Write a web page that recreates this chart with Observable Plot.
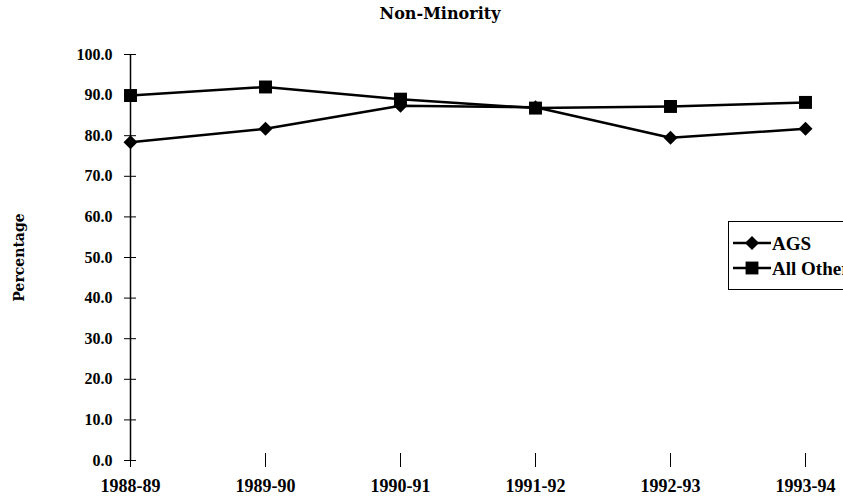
<!DOCTYPE html>
<html>
<head>
<meta charset="utf-8">
<script src="https://cdn.jsdelivr.net/npm/d3@7"></script>
<script src="https://cdn.jsdelivr.net/npm/@observablehq/plot@0.6"></script>
<style>
  html, body { margin: 0; padding: 0; background: #fff; }
  #wrap { position: relative; width: 843px; height: 503px; overflow: hidden; }
  #title { position: absolute; left: 0; width: 880px; top: 4px; text-align: center;
    font-family: "DejaVu Serif", serif; font-weight: bold; font-size: 16px; color: #000; }
  #legend { position: absolute; left: 728px; top: 221px; width: 130px; height: 67px;
    border: 1px solid #000; background: #fff; }
  #legend svg { position: absolute; left: 0; top: 0; }
</style>
</head>
<body>
<div id="wrap">
  <div id="chart"></div>
  <div id="title">Non-Minority</div>
  <div id="legend"></div>
</div>
<script>
const categories = ["1988-89", "1989-90", "1990-91", "1991-92", "1992-93", "1993-94"];
const agsValues = [78.4, 81.7, 87.4, 87.0, 79.5, 81.7];
const allOtherValues = [89.9, 92.0, 89.0, 86.8, 87.2, 88.2];
const seriesNames = ["AGS", "All Other"];
const yTicks = [0, 10, 20, 30, 40, 50, 60, 70, 80, 90, 100];

const agsData = categories.map((c, i) => ({ year: c, value: agsValues[i], series: seriesNames[0] }));
const otherData = categories.map((c, i) => ({ year: c, value: allOtherValues[i], series: seriesNames[1] }));

const fmt = d3.format(".1f");
const serifBold = "Liberation Serif, Times New Roman, serif";

const plot = Plot.plot({
  width: 843,
  height: 503,
  marginLeft: 130,
  marginRight: 38,
  marginTop: 54,
  marginBottom: 43,
  style: { background: "#fff", color: "#000", fontFamily: serifBold, fontWeight: "bold" },
  x: { type: "point", domain: categories, padding: 0 },
  y: { domain: [0, 100] },
  marks: [
    Plot.ruleX([categories[0]], { y1: 0, y2: 100, stroke: "#000", strokeWidth: 1.5 }),
    Plot.ruleY([0], { x1: categories[0], x2: categories[categories.length - 1], stroke: "#000", strokeWidth: 1.5 }),
    Plot.axisY({ ticks: yTicks, tickSize: 12, dx: 6, text: null, stroke: "#000", strokeWidth: 1, label: null }),
    Plot.axisY({ ticks: yTicks, tickSize: 0, tickPadding: 18, tickFormat: fmt, fontSize: 16, fontWeight: "bold",
      fontFamily: serifBold, label: "Percentage", labelAnchor: "center", labelArrow: "none", labelOffset: 116 }),
    Plot.axisX({ ticks: categories, tickSize: 14, dy: -7, text: null, stroke: "#000", strokeWidth: 1, label: null }),
    Plot.axisX({ ticks: categories, tickSize: 0, tickPadding: 19, fontSize: 18, fontWeight: "bold",
      fontFamily: serifBold, label: null }),
    Plot.line(agsData, { x: "year", y: "value", stroke: "#000", strokeWidth: 2.5 }),
    Plot.line(otherData, { x: "year", y: "value", stroke: "#000", strokeWidth: 2.5 }),
    Plot.dot(agsData, { x: "year", y: "value", symbol: "diamond2", fill: "#000", stroke: null, r: 6.3 }),
    Plot.dot(otherData, { x: "year", y: "value", symbol: "square", fill: "#000", stroke: null, r: 7.3 })
  ]
});
plot.querySelectorAll("g[aria-label='y-axis label'] text").forEach(t => {
  t.setAttribute("font-family", "DejaVu Serif, serif");
  t.setAttribute("font-size", "14");
  t.setAttribute("font-weight", "bold");
});
document.getElementById("chart").appendChild(plot);

// legend (clipped at the right edge, as in the reference)
const lg = d3.select("#legend").append("svg").attr("width", 130).attr("height", 67);
const legSym = [d3.symbolDiamond2, d3.symbolSquare];
const legSize = [125, 165];
seriesNames.forEach((name, i) => {
  const y = 21 + i * 25;
  lg.append("line").attr("x1", 4).attr("x2", 42).attr("y1", y).attr("y2", y)
    .attr("stroke", "#000").attr("stroke-width", 2.5);
  lg.append("path").attr("d", d3.symbol(legSym[i], legSize[i])())
    .attr("transform", `translate(23,${y})`).attr("fill", "#000");
  lg.append("text").attr("x", 43).attr("y", y).attr("dy", "0.35em")
    .attr("font-family", serifBold).attr("font-weight", "bold").attr("font-size", 19)
    .text(name);
});
</script>
</body>
</html>
